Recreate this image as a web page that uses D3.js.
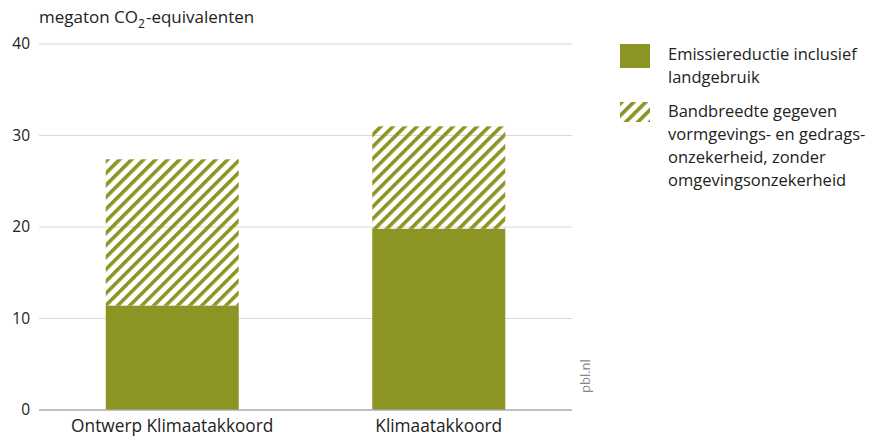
<!DOCTYPE html>
<html>
<head>
<meta charset="utf-8">
<script src="https://cdn.jsdelivr.net/npm/d3@7"></script>
<style>
body { margin: 0; background: #fff; }
text { font-family: "Open Sans", sans-serif; }
</style>
</head>
<body>
<script>
var categories = ["Ontwerp Klimaatakkoord", "Klimaatakkoord"];
var reductie = [11.4, 19.8];
var bandTop = [27.4, 31.0];
var yTicks = [0, 10, 20, 30, 40];
var legendLabels = [
  ["Emissiereductie inclusief", "landgebruik"],
  ["Bandbreedte gegeven", "vormgevings- en gedrags-", "onzekerheid, zonder", "omgevingsonzekerheid"]
];
var olive = "#8c9423";

var svg = d3.select("body").append("svg")
  .attr("width", 874)
  .attr("height", 436);

var defs = svg.append("defs");
var pat = defs.append("pattern")
  .attr("id", "hatch")
  .attr("patternUnits", "userSpaceOnUse")
  .attr("width", 8.5)
  .attr("height", 8.5)
  .attr("patternTransform", "rotate(45)");
pat.append("rect")
  .attr("x", 0).attr("y", 0)
  .attr("width", 3.6).attr("height", 8.5)
  .attr("fill", olive);

// bars 133px wide centred on each category
var barW = 133;
var xc = d3.scalePoint().domain(categories).range([39, 572]).padding(0.5);

var y = d3.scaleLinear().domain([0, 40]).range([410, 44]);

// gridlines
svg.append("g").selectAll("line")
  .data(yTicks.filter(function(d){ return d > 0; }))
  .enter().append("line")
  .attr("x1", 39).attr("x2", 572)
  .attr("y1", function(d){ return y(d); })
  .attr("y2", function(d){ return y(d); })
  .attr("stroke", "#d9d9d9")
  .attr("stroke-width", 1);

// tick labels
svg.append("g").selectAll("text")
  .data(yTicks)
  .enter().append("text")
  .attr("x", 30)
  .attr("y", function(d){ return y(d) + 5; })
  .attr("text-anchor", "end")
  .attr("font-size", "15.5px")
  .attr("fill", "#222")
  .text(function(d){ return d; });

// axis title
var title = svg.append("text")
  .attr("x", 39)
  .attr("y", 23)
  .attr("font-size", "17px")
  .attr("fill", "#222");
title.append("tspan").text("megaton CO");
title.append("tspan").attr("font-size", "12px").attr("dy", 5).text("2");
title.append("tspan").attr("dy", -5).attr("dx", 1).text("-equivalenten");

// hatched band
svg.append("g").selectAll("rect")
  .data(categories)
  .enter().append("rect")
  .attr("x", function(d){ return xc(d) - barW / 2; })
  .attr("width", barW)
  .attr("y", function(d, i){ return y(bandTop[i]); })
  .attr("height", function(d, i){ return y(reductie[i]) - y(bandTop[i]); })
  .attr("fill", "url(#hatch)");

// solid bars
svg.append("g").selectAll("rect")
  .data(categories)
  .enter().append("rect")
  .attr("x", function(d){ return xc(d) - barW / 2; })
  .attr("width", barW)
  .attr("y", function(d, i){ return y(reductie[i]); })
  .attr("height", function(d, i){ return y(0) - y(reductie[i]); })
  .attr("fill", olive);

// baseline
svg.append("line")
  .attr("x1", 39).attr("x2", 572)
  .attr("y1", y(0)).attr("y2", y(0))
  .attr("stroke", "#aaa")
  .attr("stroke-width", 1.5);

// category labels
svg.append("g").selectAll("text")
  .data(categories)
  .enter().append("text")
  .attr("x", function(d){ return xc(d); })
  .attr("y", 432)
  .attr("text-anchor", "middle")
  .attr("font-size", "17.3px")
  .attr("fill", "#222")
  .text(function(d){ return d; });

// source
svg.append("text")
  .attr("transform", "translate(590,393) rotate(-90)")
  .attr("font-size", "13px")
  .attr("fill", "#888")
  .text("pbl.nl");

// legend
svg.append("rect")
  .attr("x", 620).attr("y", 44)
  .attr("width", 30).attr("height", 24)
  .attr("fill", olive);
svg.append("rect")
  .attr("x", 620).attr("y", 102)
  .attr("width", 30).attr("height", 20)
  .attr("fill", "url(#hatch)");

var lineY = [[60, 83], [117, 140, 163, 186]];
legendLabels.forEach(function(lines, i){
  svg.append("g").selectAll("text")
    .data(lines)
    .enter().append("text")
    .attr("x", 668)
    .attr("y", function(d, j){ return lineY[i][j]; })
    .attr("font-size", "16.5px")
    .attr("fill", "#222")
    .text(function(d){ return d; });
});
</script>
</body>
</html>
